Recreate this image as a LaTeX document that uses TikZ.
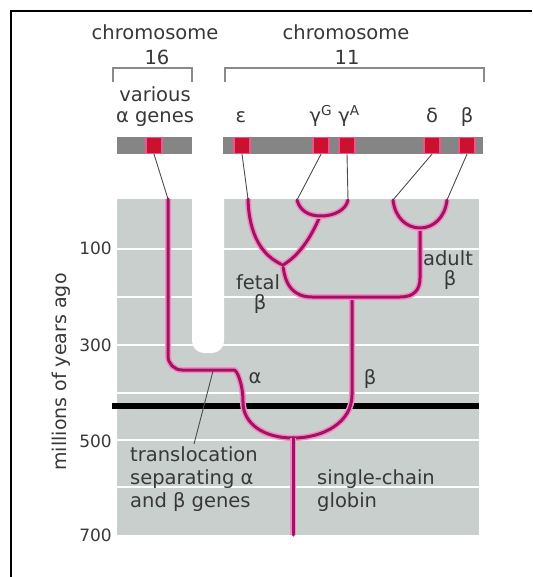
\documentclass[tikz,border=0pt]{standalone}
\usepackage{fontspec}
\setmainfont{DejaVu Sans}
\begin{document}
\begin{tikzpicture}[x=1pt,y=-1pt]
\definecolor{panel}{HTML}{C9CFCC}
\definecolor{barc}{HTML}{858585}
\definecolor{gene}{HTML}{CC1030}
\definecolor{halo}{HTML}{F58AC8}
\definecolor{core}{HTML}{A0135E}
\definecolor{txt}{HTML}{383838}
\definecolor{brk}{HTML}{8A8A8A}
\tikzset{
  lbl/.style={inner sep=0pt, text=txt, font=\fontsize{19.5}{22}\selectfont, anchor=base},
  lblw/.style={lbl, anchor=base west},
  num/.style={inner sep=0pt, text=txt, font=\fontsize{17}{20}\selectfont, anchor=base east},
  genebox/.style={fill=gene, draw=halo!60!gene, line width=1.2pt, minimum width=16pt, minimum height=16pt, inner sep=0pt},
  thinline/.style={draw=black!70, line width=0.9pt},
  tree/.style={draw=core, line width=3pt, line cap=round, line join=round, preaction={draw=halo, line width=6pt}},
  bracket/.style={draw=brk, line width=2pt},
  gridline/.style={draw=white, line width=2.5pt},
}
\useasboundingbox (0,0) rectangle (532,577);
% frame
\draw[line width=2pt] (11,577) -- (11,11) -- (532,11);
% panel
\fill[panel] (117,199) rectangle (479,535);
\foreach \yy in {249,297,345,393,440,487} \draw[gridline] (117,\yy) -- (479,\yy);
\fill[white, rounded corners=12pt] (192,185) -- (192,353) -- (224,353) -- (224,185) -- cycle;
\fill[black] (112,403) rectangle (479,409);
% axis
\node[num] (t100) at (112,254) {100};
\node[num] (t300) at (112,351) {300};
\node[num] (t500) at (112,447) {500};
\node[num] (t700) at (112,541) {700};
\node[inner sep=0pt, text=txt, font=\fontsize{19}{22}\selectfont, rotate=90] (axis) at (61,372) {millions of years ago};
% headers
\node[lbl] (chr16) at (155,40) {chromosome};
\node[lbl] (n16) at (157,65) {16};
\node[lbl] (chr11) at (346,40) {chromosome};
\node[lbl] (n11) at (347,65) {11};
\draw[bracket] (113,82) -- (113,68) -- (192,68) -- (192,82);
\draw[bracket] (225,82) -- (225,68) -- (484,68) -- (484,82);
\node[lbl] (var) at (155,102) {various};
\node[lbl] (agenes) at (155,123) {α genes};
\node[lbl] (leps) at (241,123) {ε};
\node[lbl] (lgG) at (321,123) {γ\textsuperscript{G}};
\node[lbl] (lgA) at (349,123) {γ\textsuperscript{A}};
\node[lbl] (ldel) at (432,123) {δ};
\node[lbl] (lbet) at (467,123) {β};
% chromosomes
\fill[barc] (117,137) rectangle (192,154);
\fill[barc] (223,137) rectangle (483,154);
\node[genebox] (g16) at (154,145.5) {};
\node[genebox] (geps) at (242,145.5) {};
\node[genebox] (ggG) at (321,145.5) {};
\node[genebox] (ggA) at (347,145.5) {};
\node[genebox] (gdel) at (432,145.5) {};
\node[genebox] (gbet) at (467,145.5) {};
% tree anchor points
\coordinate (a0) at (168,199);
\coordinate (e0) at (248,199);
\coordinate (gG0) at (297,200);
\coordinate (gA0) at (348,200);
\coordinate (d0) at (393,200);
\coordinate (b0) at (447,200);
\coordinate (ab) at (293,438);
\coordinate (fj) at (283,265);
% thin connectors
\draw[thinline] (g16.south) -- (a0);
\draw[thinline] (geps.south) -- (e0);
\draw[thinline] (ggG.south) -- (gG0);
\draw[thinline] (ggA.south) -- (gA0);
\draw[thinline] (gdel.south) -- (d0);
\draw[thinline] (gbet.south) -- (b0);
% tree
\draw[tree] (a0) [rounded corners=14pt] -- (168,370) -- (220,370) [sharp corners]
  .. controls (237,370) and (243,384) .. (243,402)
  .. controls (243,424) and (264,438) .. (ab)
  .. controls (324,438) and (352,422) .. (352,395) -- (352,297);
\draw[tree] (ab) -- (293,535);
\draw[tree] (fj) .. controls (285,287) and (295,297) .. (312,297) -- (400,297)
  .. controls (414,297) and (420,290) .. (420,278) -- (420,228);
\draw[tree] (e0) .. controls (249,235) and (262,256) .. (fj);
\draw[tree] (320,216) .. controls (310,240) and (298,256) .. (fj);
\draw[tree] (gG0) .. controls (300,211) and (309,216) .. (321,216)
  .. controls (334,216) and (346,210) .. (gA0);
\draw[tree] (d0) .. controls (395,218) and (407,228) .. (420,228)
  .. controls (433,228) and (445,218) .. (b0);
% labels in panel
\node[lbl] (lalpha) at (255,383) {α};
\node[lbl] (lbeta) at (370,384) {β};
\node[lbl] (fetal) at (258,289) {fetal};
\node[lbl] (fetb) at (260,309) {β};
\node[lbl] (adult) at (448,265) {adult};
\node[lbl] (adb) at (450,285) {β};
\node[lblw] (tr1) at (130,461) {translocation};
\node[lblw] (tr2) at (130,484) {separating α};
\node[lblw] (tr3) at (130,507) {and β genes};
\node[lblw] (sc1) at (317,484) {single-chain};
\node[lblw] (sc2) at (317,507) {globin};
\coordinate (tp0) at (213,371);
\coordinate (tp1) at (194,444);
\draw[thinline] (tp0) -- (tp1);
\end{tikzpicture}
\end{document}
